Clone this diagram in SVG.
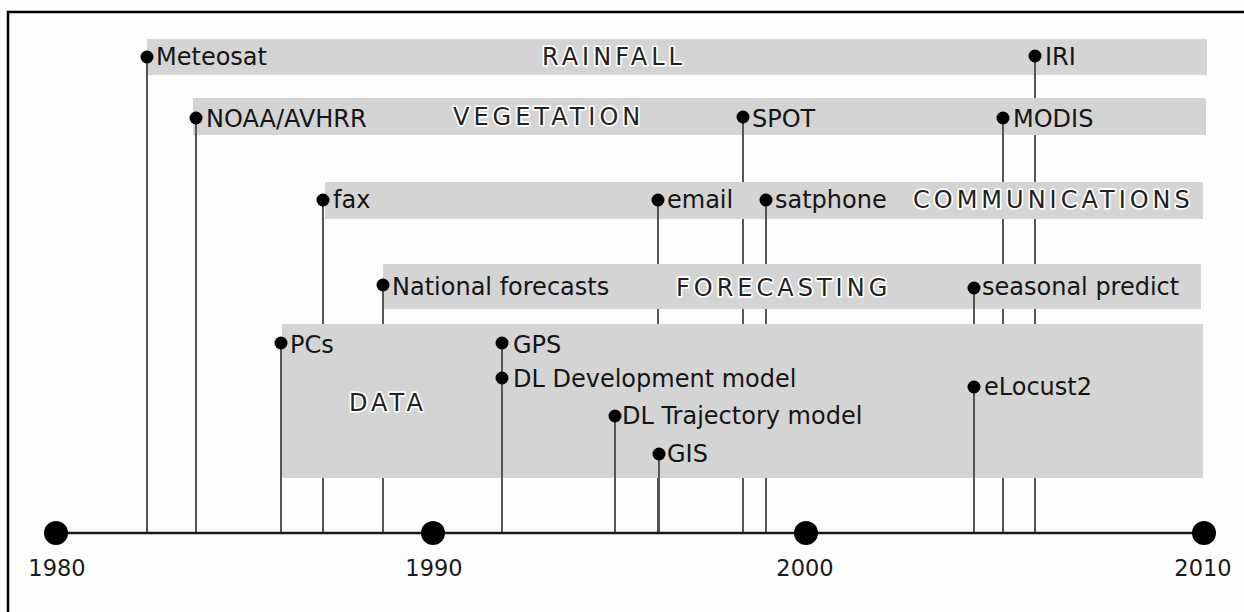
<svg xmlns="http://www.w3.org/2000/svg" width="1244" height="612" viewBox="0 0 1244 612">
  <style>
    .band { fill: #d4d4d4; }
    .cat { font-family: "DejaVu Sans", Verdana, sans-serif; font-size: 24px; letter-spacing: 4px; fill: #222; stroke: #ffffff; stroke-width: 3.4px; stroke-linejoin: round; paint-order: stroke; }
    .lbl { font-family: "DejaVu Sans", Verdana, sans-serif; font-size: 24px; fill: #151515; }
    .year { font-family: "DejaVu Sans", Verdana, sans-serif; font-size: 22.5px; fill: #1a1a1a; text-anchor: middle; }
    .dot { fill: #000; }
    .stem { fill: none; stroke: #555; stroke-width: 2; }
  </style>

  <!-- page and frame -->
  <rect x="0" y="0" width="1244" height="612" fill="#fdfdfd"/>
  <rect x="8" y="12" width="1260" height="640" fill="none" stroke="#000" stroke-width="2.5"/>

  <!-- theme bands -->
  <g id="bands">
    <g id="band-rainfall">
      <rect class="band" x="147" y="39" width="1060" height="36"/>
      <text class="cat" x="542" y="65">RAINFALL</text>
    </g>
    <g id="band-vegetation">
      <rect class="band" x="193" y="98" width="1013" height="37"/>
      <text class="cat" x="453" y="125">VEGETATION</text>
    </g>
    <g id="band-communications">
      <rect class="band" x="325" y="182" width="878" height="37"/>
      <text class="cat" x="913" y="208">COMMUNICATIONS</text>
    </g>
    <g id="band-forecasting">
      <rect class="band" x="383" y="264" width="818" height="45"/>
      <text class="cat" x="676" y="296">FORECASTING</text>
    </g>
    <g id="band-data">
      <rect class="band" x="282" y="324" width="921" height="154"/>
      <text class="cat" x="349" y="411">DATA</text>
    </g>
  </g>

  <!-- stems from each event down to the time axis (hidden where a band lies over them) -->
  <g id="connectors" class="stem">
    <path id="c-meteosat" d="M147 57V533"/>
    <path id="c-iri" d="M1035 56V98M1035 135V182M1035 219V264M1035 309V324M1035 478V533"/>
    <path id="c-noaa" d="M196 118V533"/>
    <path id="c-spot" d="M743 117V182M743 219V264M743 309V324M743 478V533"/>
    <path id="c-modis" d="M1003 118V182M1003 219V264M1003 309V324M1003 478V533"/>
    <path id="c-fax" d="M323 200V324M323 478V533"/>
    <path id="c-email" d="M658 200V264M658 309V324M658 478V533"/>
    <path id="c-satphone" d="M766 200V264M766 309V324M766 478V533"/>
    <path id="c-national" d="M383 285V324M383 478V533"/>
    <path id="c-seasonal" d="M974 288V324"/>
    <path id="c-pcs" d="M281 343V533"/>
    <path id="c-gps" d="M502 343V378"/>
    <path id="c-dldev" d="M502 378V533"/>
    <path id="c-dltraj" d="M615 416V533"/>
    <path id="c-gis" d="M659 454V533"/>
    <path id="c-elocust" d="M974 387V533"/>
  </g>

  <!-- time axis -->
  <g id="axis">
    <line x1="56" y1="533" x2="1204" y2="533" stroke="#1a1a1a" stroke-width="2.5"/>
    <circle class="dot" cx="56" cy="533" r="12"/>
    <circle class="dot" cx="433" cy="533" r="12"/>
    <circle class="dot" cx="806" cy="533" r="12"/>
    <circle class="dot" cx="1204" cy="533" r="12"/>
    <text class="year" x="57" y="576">1980</text>
    <text class="year" x="434" y="576">1990</text>
    <text class="year" x="805" y="576">2000</text>
    <text class="year" x="1203" y="576">2010</text>
  </g>

  <!-- events -->
  <g id="meteosat"><circle class="dot" cx="147" cy="57" r="6.5"/><text class="lbl" x="156" y="65">Meteosat</text></g>
  <g id="iri"><circle class="dot" cx="1035" cy="56" r="6.5"/><text class="lbl" x="1045" y="65">IRI</text></g>
  <g id="noaa-avhrr"><circle class="dot" cx="196" cy="118" r="6.5"/><text class="lbl" x="206" y="127">NOAA/AVHRR</text></g>
  <g id="spot"><circle class="dot" cx="743" cy="117" r="6.5"/><text class="lbl" x="752" y="127">SPOT</text></g>
  <g id="modis"><circle class="dot" cx="1003" cy="118" r="6.5"/><text class="lbl" x="1013" y="127">MODIS</text></g>
  <g id="fax"><circle class="dot" cx="323" cy="200" r="6.5"/><text class="lbl" x="333" y="208">fax</text></g>
  <g id="email"><circle class="dot" cx="658" cy="200" r="6.5"/><text class="lbl" x="667" y="208">email</text></g>
  <g id="satphone"><circle class="dot" cx="766" cy="200" r="6.5"/><text class="lbl" x="775" y="208">satphone</text></g>
  <g id="national-forecasts"><circle class="dot" cx="383" cy="285" r="6.5"/><text class="lbl" x="392" y="295">National forecasts</text></g>
  <g id="seasonal-predict"><circle class="dot" cx="974" cy="288" r="6.5"/><text class="lbl" x="982" y="295">seasonal predict</text></g>
  <g id="pcs"><circle class="dot" cx="281" cy="343" r="6.5"/><text class="lbl" x="290" y="353">PCs</text></g>
  <g id="gps"><circle class="dot" cx="502" cy="343" r="6.5"/><text class="lbl" x="513" y="353">GPS</text></g>
  <g id="dl-development"><circle class="dot" cx="502" cy="378" r="6.5"/><text class="lbl" x="513" y="387">DL Development model</text></g>
  <g id="dl-trajectory"><circle class="dot" cx="615" cy="416" r="6.5"/><text class="lbl" x="622" y="424">DL Trajectory model</text></g>
  <g id="gis"><circle class="dot" cx="659" cy="454" r="6.5"/><text class="lbl" x="667" y="462">GIS</text></g>
  <g id="elocust2"><circle class="dot" cx="974" cy="387" r="6.5"/><text class="lbl" x="984" y="395">eLocust2</text></g>
</svg>
